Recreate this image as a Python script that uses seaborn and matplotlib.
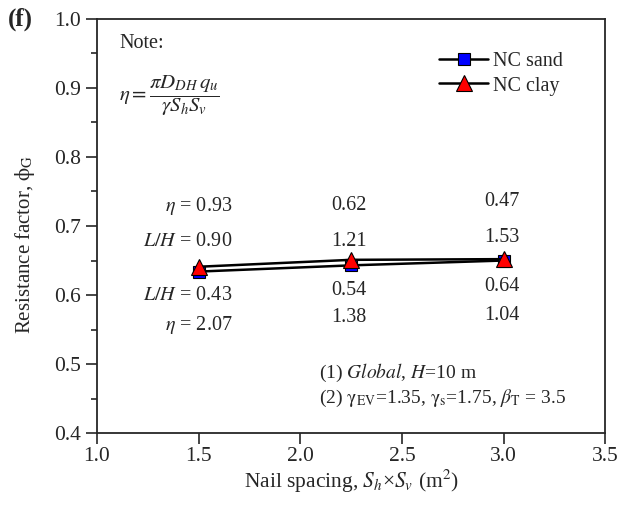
import matplotlib
matplotlib.use("Agg")
import matplotlib.pyplot as plt
from matplotlib.ticker import MultipleLocator
import pandas as pd
import seaborn as sns

# Nail spacing (m^2) and resistance factors for each soil type
spacing = [1.5, 2.25, 3.0]
phi_sand = [0.634, 0.643, 0.650]
phi_clay = [0.641, 0.651, 0.652]

# Annotations above the curves (eta, L/H) and below (L/H, eta)
eta_clay = ["0.93", "0.62", "0.47"]
lh_clay = ["0.90", "1.21", "1.53"]
lh_sand = ["0.43", "0.54", "0.64"]
eta_sand = ["2.07", "1.38", "1.04"]

xticks = [1.0, 1.5, 2.0, 2.5, 3.0, 3.5]
yticks = [0.4, 0.5, 0.6, 0.7, 0.8, 0.9, 1.0]

sns.set_style("ticks")
plt.rcParams["font.family"] = ["Liberation Serif", "DejaVu Serif"]
plt.rcParams["mathtext.fontset"] = "stix"
plt.rcParams["font.size"] = 14.5

TICK_FS = 15.5
LABEL_FS = 15.5
ANN_FS = 14.5

df = pd.DataFrame({
    "spacing": spacing * 2,
    "phi": phi_sand + phi_clay,
    "soil": ["NC sand"] * 3 + ["NC clay"] * 3,
})

fig = plt.figure(figsize=(6.22, 5.09), dpi=100)
ax = fig.add_axes([0.156, 0.149, 0.817, 0.814])

sand = df[df.soil == "NC sand"]
clay = df[df.soil == "NC clay"]
sns.lineplot(data=sand, x="spacing", y="phi", ax=ax, color="black", lw=1.8,
             marker="s", markersize=9, markerfacecolor="blue",
             markeredgecolor="black", markeredgewidth=0.8, label="NC sand")
sns.lineplot(data=clay, x="spacing", y="phi", ax=ax, color="black", lw=1.8,
             marker="^", markersize=12, markerfacecolor="red",
             markeredgecolor="black", markeredgewidth=0.8, label="NC clay")

ax.set_xlim(1.0, 3.5)
ax.set_ylim(0.4, 1.0)
ax.set_xticks(xticks)
ax.set_yticks(yticks)
ax.set_xticklabels([f"{v:.1f}" for v in xticks])
ax.set_yticklabels([f"{v:.1f}" for v in yticks])
ax.yaxis.set_minor_locator(MultipleLocator(0.05))
ax.tick_params(axis="x", direction="out", length=8, width=1.2, labelsize=TICK_FS, pad=2)
ax.tick_params(axis="y", which="major", direction="out", length=8, width=1.2, labelsize=TICK_FS)
ax.tick_params(axis="y", which="minor", direction="out", length=4, width=1.2)
for s in ax.spines.values():
    s.set_linewidth(1.3)

ax.set_xlabel(r"Nail spacing, $S_h$×$S_v$ (m$^2$)", fontsize=LABEL_FS, labelpad=1)
ax.set_ylabel(r"Resistance factor, $\mathrm{\phi}_\mathrm{G}$", fontsize=15)
ax.yaxis.set_label_coords(-0.118, 0.455)

leg = ax.legend(loc="upper right", bbox_to_anchor=(0.952, 0.963), frameon=False,
                handlelength=2.4, handletextpad=0.25, labelspacing=0.25, fontsize=ANN_FS)

# Notes
ax.text(1.11, 0.965, "Note:", fontsize=ANN_FS, ha="left", va="center")
ax.text(1.11, 0.888, r"$\eta = \dfrac{\pi D_{DH}\, q_u}{\gamma S_h S_v}$",
        fontsize=15, ha="left", va="center")

# Labels above the curves
ax.text(1.665, 0.729, r"$\eta$ = " + eta_clay[0], ha="right", va="center", fontsize=ANN_FS)
ax.text(1.665, 0.678, r"$L/H$ = " + lh_clay[0], ha="right", va="center", fontsize=ANN_FS)
for x, e, l in zip(spacing[1:], eta_clay[1:], lh_clay[1:]):
    ax.text(x - 0.01, 0.729 + (0.006 if x == 3.0 else 0), e, ha="center", va="center", fontsize=ANN_FS)
    ax.text(x - 0.01, 0.678 + (0.006 if x == 3.0 else 0), l, ha="center", va="center", fontsize=ANN_FS)

# Labels below the curves
ax.text(1.665, 0.599, r"$L/H$ = " + lh_sand[0], ha="right", va="center", fontsize=ANN_FS)
ax.text(1.665, 0.557, r"$\eta$ = " + eta_sand[0], ha="right", va="center", fontsize=ANN_FS)
for x, l, e in zip(spacing[1:], lh_sand[1:], eta_sand[1:]):
    ax.text(x - 0.01, 0.606 + (0.006 if x == 3.0 else 0), l, ha="center", va="center", fontsize=ANN_FS)
    ax.text(x - 0.01, 0.567 + (0.004 if x == 3.0 else 0), e, ha="center", va="center", fontsize=ANN_FS)

ax.text(2.09, 0.487, r"(1) $\it{Global}$, $H$=10 m", ha="left", va="center", fontsize=14)
ax.text(2.09, 0.450,
        r"(2) $\mathrm{\gamma}_\mathrm{EV}$=1.35, $\mathrm{\gamma}_\mathrm{s}$=1.75, $\beta_\mathrm{T}$ = 3.5",
        ha="left", va="center", fontsize=14)

fig.text(0.012, 0.962, "(f)", fontsize=18, fontweight="bold", ha="left", va="center")

fig.savefig("out.png", dpi=100)
